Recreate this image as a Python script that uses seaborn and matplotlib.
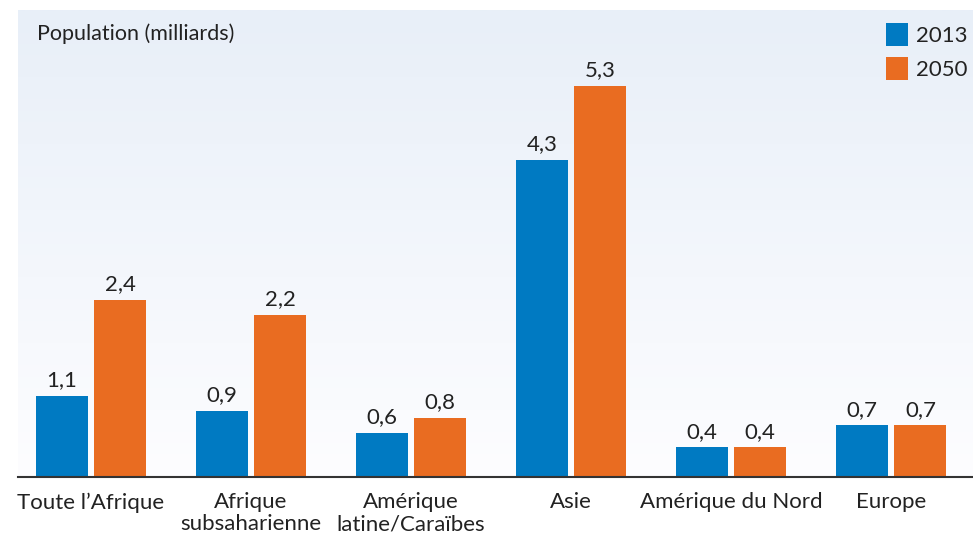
import numpy as np
import pandas as pd
import seaborn as sns
import matplotlib.pyplot as plt
from matplotlib.colors import LinearSegmentedColormap

regions = ['Toute l\u2019Afrique', 'Afrique\nsubsaharienne', 'Amérique\nlatine/Caraïbes',
           'Asie', 'Amérique du Nord', 'Europe']
years = ['2013', '2050']
pop_2013 = [1.1, 0.9, 0.6, 4.3, 0.4, 0.7]
pop_2050 = [2.4, 2.2, 0.8, 5.3, 0.4, 0.7]
colors = ['#007AC2', '#E96C21']

df = pd.DataFrame({
    'region': regions * 2,
    'year': [years[0]] * len(regions) + [years[1]] * len(regions),
    'pop': pop_2013 + pop_2050,
})

sns.set_theme(style='white')
plt.rcParams['font.family'] = ['Lato', 'DejaVu Sans']
text_color = '#222222'

fig = plt.figure(figsize=(9.73, 5.36), dpi=100)
ax = fig.add_axes([18 / 973, 59 / 536, 955 / 973, 467 / 536])

sns.barplot(data=df, x='region', y='pop', hue='year', palette=colors,
            width=0.725, gap=0.1, saturation=1, linewidth=0, ax=ax, zorder=3)

# background gradient
grad = np.linspace(0, 1, 256).reshape(-1, 1)
cmap = LinearSegmentedColormap.from_list('bg', ['#FDFDFF', '#E8EFF8'])
ax.imshow(grad, aspect='auto', cmap=cmap, origin='lower',
          extent=[-0.5, 5.6, 0, 6.33], zorder=0)
ax.set_xlim(-0.456, 5.51)
ax.set_ylim(0, 6.33)

for cont in ax.containers:
    labels = [f'{b.get_height():.1f}'.replace('.', ',') for b in cont]
    ax.bar_label(cont, labels=labels, padding=4, fontsize=16, color=text_color)

for s in ['top', 'right', 'left']:
    ax.spines[s].set_visible(False)
ax.spines['bottom'].set_color('#333333')
ax.spines['bottom'].set_linewidth(1.5)
ax.spines['bottom'].set_zorder(4)

ax.set_yticks([])
ax.set_xlabel('')
ax.set_ylabel('')
ax.tick_params(axis='x', length=0, pad=11, labelsize=16, labelcolor=text_color)
for t in ax.get_xticklabels():
    t.set_linespacing(1.12)
ax.set_facecolor('none')

ax.text(0.02, 0.95, 'Population (milliards)', transform=ax.transAxes,
        fontsize=15.5, color=text_color, va='center', ha='left')

sns.move_legend(ax, loc='upper right', bbox_to_anchor=(1.006, 0.995), frameon=False,
                title=None, fontsize=16, handlelength=1.0, handleheight=1.2,
                handletextpad=0.35, labelspacing=0.5, borderaxespad=0.1)
for t in ax.get_legend().get_texts():
    t.set_color(text_color)

fig.savefig('out.png', dpi=100)
